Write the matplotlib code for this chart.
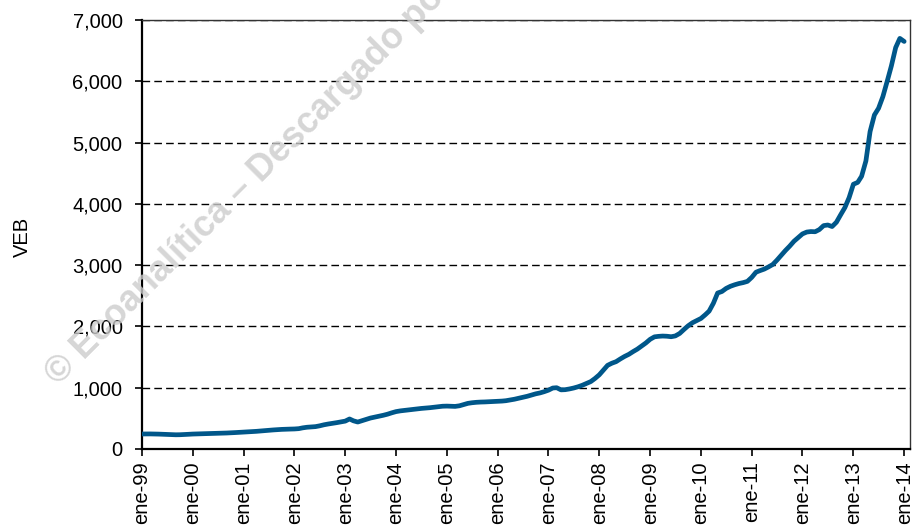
import numpy as np
import pandas as pd
import matplotlib
matplotlib.use('Agg')
import matplotlib.pyplot as plt
import matplotlib.dates as mdates
from matplotlib.ticker import FuncFormatter

plt.rcParams['font.family'] = ['Liberation Sans', 'DejaVu Sans']

# monthly values, ene-99 .. ene-14 (VEB)
v1999 = [245, 246, 246, 245, 243, 240, 237, 234, 232, 233, 236, 240]
v2000 = [244, 246, 248, 250, 252, 254, 256, 258, 261, 264, 268, 272]
v2001 = [276, 279, 283, 288, 294, 300, 306, 311, 316, 320, 323, 325]
v2002 = [327, 332, 345, 355, 360, 365, 378, 395, 408, 418, 430, 442]
v2003 = [455, 490, 460, 440, 462, 485, 505, 520, 535, 550, 568, 590]
v2004 = [610, 622, 630, 638, 648, 655, 662, 668, 674, 682, 690, 698]
v2005 = [700, 698, 695, 705, 725, 745, 755, 762, 766, 768, 772, 775]
v2006 = [778, 782, 788, 800, 812, 828, 845, 860, 880, 900, 915, 935]
v2007 = [960, 995, 1000, 965, 968, 980, 995, 1015, 1040, 1070, 1100, 1150]
v2008 = [1210, 1290, 1365, 1400, 1425, 1470, 1510, 1545, 1590, 1630, 1680, 1730]
v2009 = [1790, 1830, 1838, 1843, 1840, 1832, 1845, 1885, 1950, 2010, 2060, 2095]
v2010 = [2130, 2190, 2250, 2380, 2545, 2570, 2620, 2655, 2680, 2700, 2715, 2735]
v2011 = [2800, 2885, 2910, 2935, 2970, 3010, 3080, 3160, 3240, 3310, 3390, 3450]
v2012 = [3510, 3540, 3548, 3545, 3580, 3645, 3655, 3630, 3700, 3820, 3940, 4100]
v2013 = [4320, 4350, 4450, 4700, 5180, 5450, 5560, 5750, 6000, 6250, 6550, 6700]
v2014 = [6650]

values = (v1999 + v2000 + v2001 + v2002 + v2003 + v2004 + v2005 + v2006 +
          v2007 + v2008 + v2009 + v2010 + v2011 + v2012 + v2013 + v2014)
dates = pd.date_range('1999-01-01', periods=len(values), freq='MS')

years = list(range(1999, 2015))
xlabels = ['ene-%02d' % (y % 100) for y in years]
yticks = [0, 1000, 2000, 3000, 4000, 5000, 6000, 7000]

fig = plt.figure(figsize=(9.16, 5.29), dpi=100)
ax = fig.add_axes([142/916, 1-449/529, (910-142)/916, (449-20)/529])

ax.plot(dates, values, color='#00578A', lw=3.4, solid_capstyle='round',
        solid_joinstyle='round', zorder=3)

ax.set_ylim(0, 7000)
ax.set_yticks(yticks)
ax.yaxis.set_major_formatter(FuncFormatter(lambda v, p: '{:,.0f}'.format(v)))
ax.set_xlim(pd.Timestamp('1999-01-01'), pd.Timestamp('2014-02-12'))
ax.set_xticks([pd.Timestamp('%d-01-01' % y) for y in years])
ax.set_xticklabels(xlabels, rotation=90)

ax.grid(axis='y', color='black', lw=1.0, linestyle=(0, (5.5, 3)), zorder=1)
ax.set_axisbelow(True)

ax.tick_params(axis='both', labelsize=14.5, colors='black', direction='out',
               length=5, width=1.2)
ax.tick_params(axis='y', pad=9)
ax.tick_params(axis='x', pad=4)

for s in ['left', 'bottom']:
    ax.spines[s].set_linewidth(1.6)
    ax.spines[s].set_color('black')
for s in ['top', 'right']:
    ax.spines[s].set_linewidth(1.0)
    ax.spines[s].set_color('#333333')

fig.text(22/916, 1-237/529, 'VEB', rotation=90, fontsize=14.5,
         ha='center', va='center')

# watermark (cut off at the top edge, as in the original)
fig.text(58/916, 1-386/529, '\u00a9 Ecoanal\u00edtica \u2013 Descargado por',
         rotation=45, rotation_mode='anchor', ha='left', va='baseline',
         fontsize=26, fontweight='bold', color='#cccccc', alpha=0.8, zorder=0)

fig.savefig('out.png', dpi=100)
